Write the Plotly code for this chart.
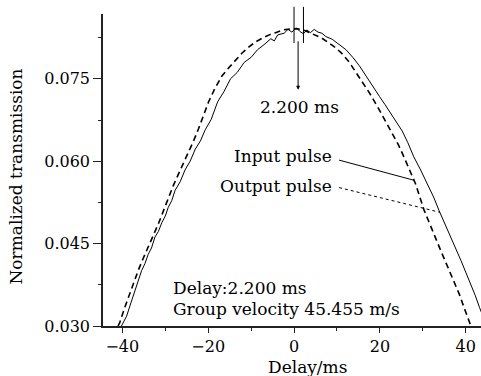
import plotly.graph_objects as go

# Input pulse (dashed)
input_delay = [-41.0, -40.6, -39.6, -38.6, -37.4, -36.3, -35.2, -34.0, -32.8, -31.6, -30.4, -29.3,
               -28.1, -26.9, -25.7, -24.6, -23.4, -22.2, -21.0, -19.9, -18.4, -16.8, -15.2, -13.7,
               -12.1, -10.5, -9.0, -7.4, -5.8, -4.3, -2.5, -0.8, 0.8, 2.5, 4.7, 6.5, 8.2, 9.8,
               11.3, 12.9, 14.4, 16.0, 17.6, 19.9, 21.4, 22.9, 24.3, 25.6, 27.0, 28.3, 29.3, 30.3,
               31.3, 32.2, 33.2, 34.2, 35.4, 36.5, 37.5, 38.5, 39.6, 40.8, 41.2]
input_trans = [0.0300, 0.0306, 0.0330, 0.0352, 0.0378, 0.0401, 0.0422, 0.0443, 0.0466, 0.0486, 0.0510, 0.0533,
               0.0556, 0.0577, 0.0597, 0.0616, 0.0637, 0.0660, 0.0685, 0.0708, 0.0733, 0.0755, 0.0770, 0.0784,
               0.0797, 0.0808, 0.0817, 0.0824, 0.0830, 0.0834, 0.0839, 0.0841, 0.0841, 0.0838, 0.0831, 0.0824, 0.0815, 0.0806,
               0.0795, 0.0780, 0.0762, 0.0743, 0.0724, 0.0693, 0.0672, 0.0651, 0.0630, 0.0608, 0.0584, 0.0559, 0.0535, 0.0511,
               0.0492, 0.0474, 0.0455, 0.0437, 0.0415, 0.0395, 0.0377, 0.0358, 0.0334, 0.0309, 0.0300]

# Output pulse (solid, noisy)
output_delay = [-40.2, -39.0, -38.0, -37.1, -36.3, -35.5, -34.7, -34.0, -33.2, -32.4, -31.6, -30.8,
                -30.0, -29.3, -28.5, -27.7, -26.5, -25.4, -24.2, -23.0, -21.8, -20.7, -19.3, -17.8,
                -16.3, -14.8, -13.2, -11.6, -10.0, -8.5, -7.0, -5.4, -4.6, -3.8, -2.3, -1.4, -0.5,
                0.5, 1.4, 2.2, 3.0, 3.8, 4.7, 5.6, 6.5, 7.4, 8.9, 10.5, 12.1, 13.7, 15.2, 16.8,
                18.4, 19.9, 21.2, 22.5, 23.9, 25.2, 26.5, 27.9, 29.5, 31.1, 32.5, 33.8, 35.1, 36.5,
                37.7, 38.9, 40.0, 41.2, 42.2, 43.2, 44.0]
output_trans = [0.0300, 0.0318, 0.0342, 0.0364, 0.0380, 0.0401, 0.0414, 0.0430, 0.0442, 0.0462, 0.0472, 0.0488,
                0.0500, 0.0516, 0.0528, 0.0547, 0.0563, 0.0584, 0.0600, 0.0622, 0.0637, 0.0657, 0.0676, 0.0708,
                0.0727, 0.0750, 0.0762, 0.0780, 0.0789, 0.0803, 0.0812, 0.0823, 0.0819, 0.0830, 0.0833, 0.0840, 0.0835,
                0.0843, 0.0836, 0.0832, 0.0839, 0.0834, 0.0840, 0.0835, 0.0833, 0.0827, 0.0822, 0.0812, 0.0803, 0.0789, 0.0774, 0.0755,
                0.0737, 0.0718, 0.0703, 0.0688, 0.0672, 0.0655, 0.0634, 0.0608, 0.0584, 0.0559, 0.0535, 0.0510, 0.0487, 0.0462,
                0.0443, 0.0419, 0.0398, 0.0376, 0.0356, 0.0334, 0.0318]

y_ticks = [0.030, 0.045, 0.060, 0.075]
y_tick_labels = ["0.030", "0.045", "0.060", "0.075"]
x_ticks = [-40, -20, 0, 20, 40]
x_tick_labels = ["\u221240", "\u221220", "0", "20", "40"]

DELAY = 2.2
FONT = "DejaVu Serif"

fig = go.Figure()
fig.add_trace(go.Scatter(x=input_delay, y=input_trans, mode="lines",
                         line=dict(color="black", width=1.6, dash="6px,4px"), name="Input pulse"))
fig.add_trace(go.Scatter(x=output_delay, y=output_trans, mode="lines",
                         line=dict(color="black", width=1.0), name="Output pulse"))

axis_common = dict(showgrid=False, zeroline=False, showline=True, linecolor="#222", linewidth=1.5,
                   ticks="outside", tickcolor="#222", tickwidth=1.2,
                   tickfont=dict(family=FONT, size=16, color="black"))

fig.update_layout(
    width=481, height=376,
    margin=dict(l=103, r=0, t=14, b=50),
    paper_bgcolor="white", plot_bgcolor="white",
    showlegend=False,
    font=dict(family=FONT, color="black"),
    xaxis=dict(range=[-44.5, 43.56], tickvals=x_ticks, ticktext=x_tick_labels, ticklen=5,
               minor=dict(dtick=10, tick0=0, ticks="outside", ticklen=3, tickcolor="#222"),
               **axis_common),
    yaxis=dict(range=[0.030, 0.0868], tickvals=y_ticks, ticktext=y_tick_labels, ticklen=8,
               minor=dict(dtick=0.0075, tick0=0.030, ticks="outside", ticklen=3, tickcolor="#222"),
               **axis_common),
)

# axis titles
fig.add_annotation(text="Delay/ms", xref="paper", yref="paper", x=(307 - 103) / 378, y=-0.13,
                   xanchor="center", yanchor="middle", showarrow=False, font=dict(size=17))
fig.add_annotation(text="Normalized transmission", xref="paper", yref="paper", x=-87 / 378, y=0.479,
                   xanchor="center", yanchor="middle", textangle=-90, showarrow=False, font=dict(size=17))

# peak marker lines
for xv in [0, DELAY]:
    fig.add_shape(type="line", xref="x", yref="paper", x0=xv, x1=xv, y0=0.907, y1=1.023,
                  line=dict(color="black", width=1))

# arrow for delay
fig.add_annotation(x=0.95, y=0.0730, ax=0.95, ay=0.0821, xref="x", yref="y", axref="x", ayref="y",
                   text="", showarrow=True, arrowhead=2, arrowsize=0.8, arrowwidth=1, arrowcolor="black")
fig.add_annotation(x=1.2, y=0.0699, text="2.200 ms", showarrow=False, font=dict(size=17),
                   xanchor="center", yanchor="middle")

# leader labels
fig.add_annotation(x=9.4, y=0.0610, text="Input pulse", showarrow=False, font=dict(size=17),
                   xanchor="right", yanchor="middle")
fig.add_annotation(x=9.4, y=0.0555, text="Output pulse", showarrow=False, font=dict(size=17),
                   xanchor="right", yanchor="middle")
fig.add_shape(type="line", xref="x", yref="y", x0=10.5, y0=0.0602, x1=28.1, y1=0.0565,
              line=dict(color="black", width=1))
fig.add_shape(type="line", xref="x", yref="y", x0=10.5, y0=0.0552, x1=34.0, y1=0.0507,
              line=dict(color="black", width=1, dash="dot"))

fig.add_annotation(x=-28.6, y=0.0370, text="Delay:2.200 ms", showarrow=False, font=dict(size=17),
                   xanchor="left", yanchor="middle")
fig.add_annotation(x=-28.6, y=0.0331, text="Group velocity 45.455 m/s", showarrow=False, font=dict(size=17),
                   xanchor="left", yanchor="middle")

fig.write_html("out.html")
